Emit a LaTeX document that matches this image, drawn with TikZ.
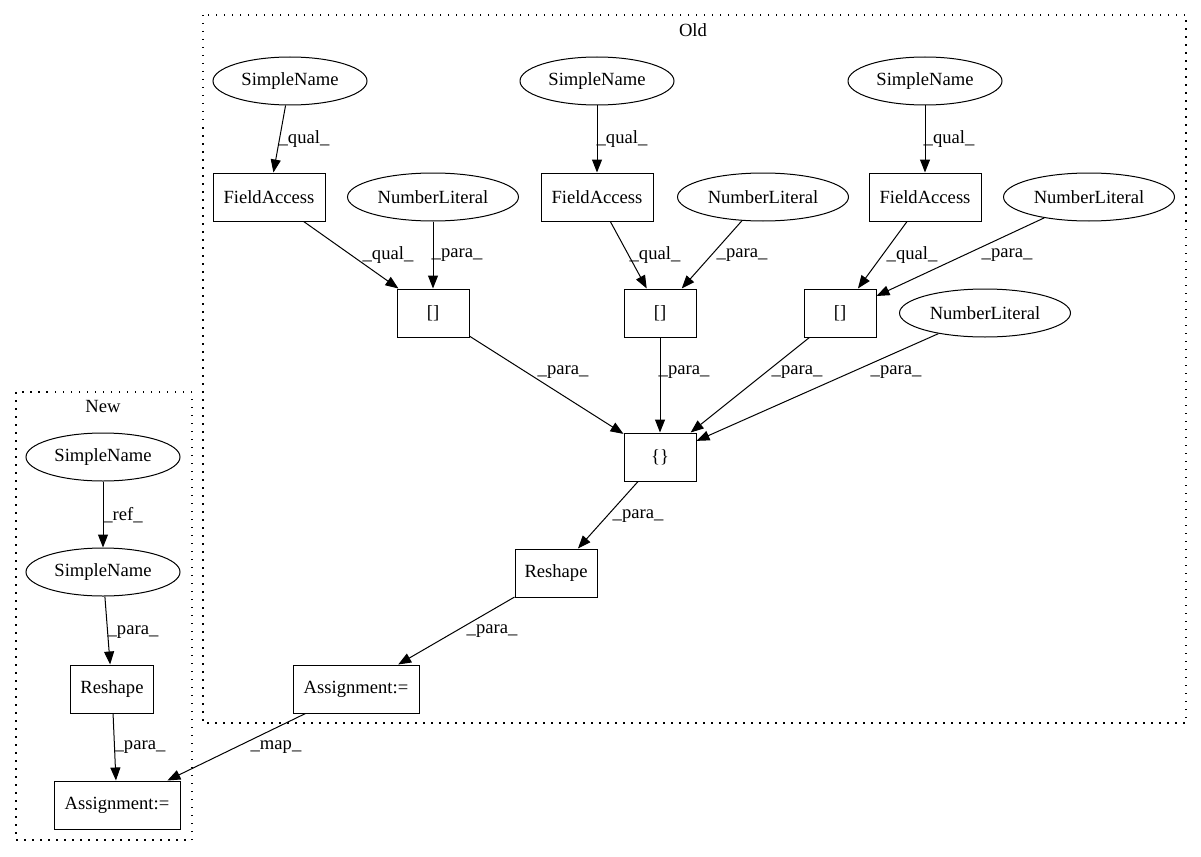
\documentclass[tikz,border=0pt]{standalone}
\usepackage{fontspec}
\setmainfont{Liberation Serif}
\usetikzlibrary{arrows.meta,shapes.geometric}
\begin{document}
\begin{tikzpicture}[x=1pt,y=-1pt,
  every node/.style={font=\fontsize{18.6}{22}\selectfont, inner sep=0pt},
  ell/.style={draw, ellipse, line width=1pt, minimum width=154pt, minimum height=48pt},
  numlit/.style={ell, minimum width=171pt},
  boxn/.style={draw, rectangle, line width=1pt, minimum height=48pt},
  lab/.style={},
  edge/.style={draw, line width=1pt, -{Triangle[length=13pt,width=10pt]}},
  cluster/.style={draw, line width=1.3pt, dash pattern=on 1.5pt off 6.5pt}]
\path[use as bounding box] (0,0) rectangle (1201,856);
% clusters
\draw[cluster] (203,15) rectangle (1186,723);
\node (oldlab) at (693,30) {Old};
\draw[cluster] (16,392) rectangle (192,840);
\node (newlab) at (103,406) {New};
% Old nodes
\node[ell] (sn1) at (290,81) {SimpleName};
\node[ell] (sn2) at (597,81) {SimpleName};
\node[ell] (sn3) at (925,81) {SimpleName};
\node[boxn, minimum width=112pt] (fa1) at (269,197) {FieldAccess};
\node[boxn, minimum width=112pt] (fa2) at (597,197) {FieldAccess};
\node[boxn, minimum width=112pt] (fa3) at (925,197) {FieldAccess};
\node[numlit] (nl1) at (433,197) {NumberLiteral};
\node[numlit] (nl2) at (763,197) {NumberLiteral};
\node[numlit] (nl3) at (1089,197) {NumberLiteral};
\node[boxn, minimum width=72pt] (b1) at (433,313) {[]};
\node[boxn, minimum width=72pt] (b2) at (660,313) {[]};
\node[boxn, minimum width=72pt] (b3) at (840,313) {[]};
\node[numlit] (nl4) at (985,313) {NumberLiteral};
\node[boxn, minimum width=72pt] (cur) at (660,457) {\{\}};
\node[boxn, minimum width=82pt] (rs1) at (556,573) {Reshape};
\node[boxn, minimum width=126pt] (as1) at (356,689) {Assignment:=};
% New nodes
\node[ell] (nsn1) at (103,457) {SimpleName};
\node[ell] (nsn2) at (103,572) {SimpleName};
\node[boxn, minimum width=83pt] (rs2) at (112,689) {Reshape};
\node[boxn, minimum width=126pt] (as2) at (117,805) {Assignment:=};
% Old edges
\path[edge] (sn1) -- (fa1);
\path[edge] (sn2) -- (fa2);
\path[edge] (sn3) -- (fa3);
\path[edge] (fa1) -- (b1);
\path[edge] (nl1) -- (b1);
\path[edge] (fa2) -- (b2);
\path[edge] (nl2) -- (b2);
\path[edge] (fa3) -- (b3);
\path[edge] (nl3) -- (b3);
\path[edge] (b1) -- (cur);
\path[edge] (b2) -- (cur);
\path[edge] (b3) -- (cur);
\path[edge] (nl4) -- (cur);
\path[edge] (cur) -- (rs1);
\path[edge] (rs1) -- (as1);
% New edges
\path[edge] (nsn1) -- (nsn2);
\path[edge] (nsn2) -- (rs2);
\path[edge] (rs2) -- (as2);
\path[edge] (as1) -- (as2);
% labels
\node[lab] (l1) at (304,139) {\_qual\_};
\node[lab] (l2) at (388,255) {\_qual\_};
\node[lab] (l3) at (457,255) {\_para\_};
\node[lab] (l4) at (622,139) {\_qual\_};
\node[lab] (l5) at (655,255) {\_qual\_};
\node[lab] (l6) at (742,255) {\_para\_};
\node[lab] (l7) at (949,139) {\_qual\_};
\node[lab] (l8) at (912,255) {\_qual\_};
\node[lab] (l9) at (1007,255) {\_para\_};
\node[lab] (l10) at (563,372) {\_para\_};
\node[lab] (l11) at (684,372) {\_para\_};
\node[lab] (l12) at (797,372) {\_para\_};
\node[lab] (l13) at (896,372) {\_para\_};
\node[lab] (l14) at (638,516) {\_para\_};
\node[lab] (l15) at (492,631) {\_para\_};
\node[lab] (l16) at (276,747) {\_map\_};
\node[lab] (l17) at (123,515) {\_ref\_};
\node[lab] (l18) at (133,632) {\_para\_};
\node[lab] (l19) at (140,747) {\_para\_};
\end{tikzpicture}
\end{document}
